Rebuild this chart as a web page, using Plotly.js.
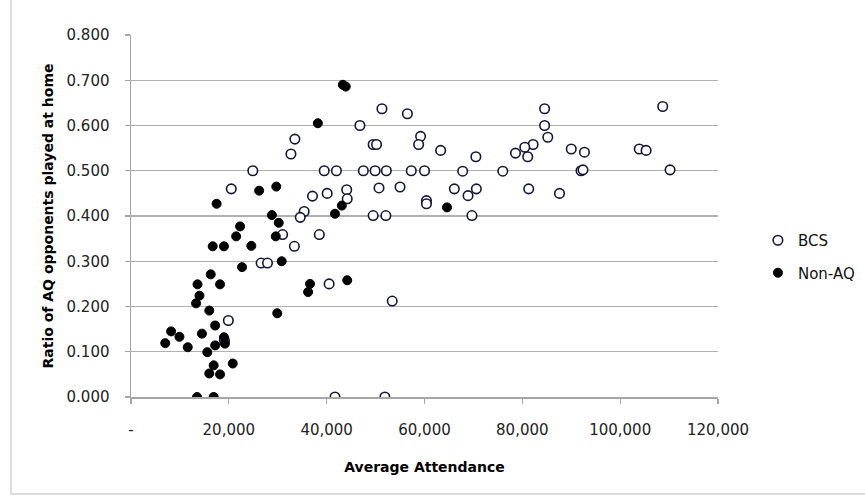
<!DOCTYPE html>
<html>
<head>
<meta charset="utf-8">
<script src="https://cdn.plot.ly/plotly-3.0.1.min.js"></script>
<style>
  html, body { margin: 0; padding: 0; background: #ffffff; }
  #chart { width: 865px; height: 497px; }
</style>
</head>
<body>
<div id="chart"></div>
<script>
// ---- Data ----
var seriesNames = ["BCS", "Non-AQ"];

var bcsAttendance = [
  41700, 51900, 40500, 53400, 33400,
  84550, 84550, 85200, 82200, 80500, 78600, 81100, 90000, 92700,
  103900, 105300, 108700, 110200, 92000, 92400, 76000, 70500, 67800,
  63300, 66100, 70600, 68900, 81300, 87600, 69700,
  46800, 51300, 56500, 33500, 32700, 49500, 50200, 59200, 58800,
  24900, 39500, 42000, 47500, 49900, 52200, 57300, 60000,
  20500, 37100, 40100, 44100, 44200, 35400, 34600, 50700, 55000,
  60400, 60400, 49500, 52100, 31000, 38500, 26600, 27900, 19900, 19100
];
var bcsRatio = [
  0.000, 0.000, 0.250, 0.212, 0.333,
  0.637, 0.600, 0.574, 0.558, 0.552, 0.539, 0.531, 0.548, 0.541,
  0.548, 0.545, 0.642, 0.502, 0.500, 0.502, 0.499, 0.531, 0.499,
  0.545, 0.460, 0.460, 0.445, 0.460, 0.450, 0.401,
  0.600, 0.637, 0.626, 0.570, 0.537, 0.558, 0.558, 0.576, 0.558,
  0.500, 0.500, 0.500, 0.500, 0.500, 0.500, 0.500, 0.500,
  0.460, 0.444, 0.450, 0.458, 0.438, 0.410, 0.397, 0.462, 0.464,
  0.434, 0.427, 0.401, 0.401, 0.359, 0.359, 0.296, 0.296, 0.169, 0.125
];

var nonAqAttendance = [
  43300, 43900, 38200, 26200, 29700, 43100, 41700, 64600, 28800, 30200,
  22300, 21500, 29600, 24600, 16700, 19000, 17500, 22700, 30800, 36600,
  36200, 44200, 16300, 18200, 13600, 14000, 13300, 16000, 29900, 17200,
  14500, 19000, 19200, 8200, 9900, 7000, 11600, 15600, 17200, 20800,
  16900, 16000, 18200, 13500, 16900
];
var nonAqRatio = [
  0.690, 0.686, 0.605, 0.456, 0.465, 0.423, 0.405, 0.419, 0.402, 0.385,
  0.377, 0.355, 0.355, 0.334, 0.333, 0.333, 0.427, 0.287, 0.300, 0.250,
  0.232, 0.258, 0.271, 0.249, 0.249, 0.224, 0.207, 0.191, 0.185, 0.158,
  0.140, 0.132, 0.118, 0.145, 0.133, 0.119, 0.110, 0.099, 0.114, 0.074,
  0.070, 0.052, 0.050, 0.000, 0.000
];

var xTickVals = [0, 20000, 40000, 60000, 80000, 100000, 120000];
var xTickText = ["-", "20,000", "40,000", "60,000", "80,000", "100,000", "120,000"];
var yTickVals = [0, 0.1, 0.2, 0.3, 0.4, 0.5, 0.6, 0.7, 0.8];

var xTitle = "Average Attendance";
var yTitle = "Ratio of AQ opponents played at home";

// ---- Chart ----
var FONT = "DejaVu Sans, Open Sans, sans-serif";

var traces = [
  {
    type: "scatter", mode: "markers", name: seriesNames[0],
    x: bcsAttendance, y: bcsRatio, legendgroup: "a",
    marker: { symbol: "circle", size: 9.5, color: "#ffffff",
              line: { color: "#14143a", width: 1.6 } },
    hoverinfo: "skip"
  },
  {
    type: "scatter", mode: "markers", name: seriesNames[1],
    x: nonAqAttendance, y: nonAqRatio, legendgroup: "b",
    marker: { symbol: "circle", size: 9, color: "#000000",
              line: { color: "#000000", width: 1 } },
    hoverinfo: "skip"
  }
];

var layout = {
  width: 865, height: 497,
  margin: { l: 131, r: 147, t: 35, b: 100, pad: 0, autoexpand: false },
  paper_bgcolor: "#ffffff", plot_bgcolor: "#ffffff",
  font: { family: FONT, size: 15, color: "#222222" },
  showlegend: true,
  legend: {
    x: 1.068, xanchor: "left", y: 0.478, yanchor: "top",
    font: { family: FONT, size: 15, color: "#111111" },
    tracegroupgap: 10, bgcolor: "rgba(0,0,0,0)", borderwidth: 0
  },
  xaxis: {
    range: [0, 120000], autorange: false,
    tickvals: xTickVals, ticktext: xTickText,
    ticks: "outside", ticklen: 5, tickcolor: "#a6a6a6", tickwidth: 1.3,
    showline: true, linecolor: "#a6a6a6", linewidth: 1.5,
    showgrid: false, zeroline: false,
    tickfont: { family: FONT, size: 15, color: "#222222" },
    ticklabelstandoff: 13,
    title: { text: xTitle, standoff: 24,
             font: { family: FONT, size: 14, color: "#000000", weight: "bold" } }
  },
  yaxis: {
    range: [0, 0.8], autorange: false,
    tickvals: yTickVals, tickformat: ".3f",
    ticks: "outside", ticklen: 5, tickcolor: "#a6a6a6", tickwidth: 1.3,
    showline: true, linecolor: "#a6a6a6", linewidth: 1.5,
    showgrid: true, gridcolor: "#b0b0b0", gridwidth: 1.3,
    zeroline: false,
    tickfont: { family: FONT, size: 15, color: "#222222" },
    ticklabelstandoff: 12,
    title: { text: yTitle, standoff: 9,
             font: { family: FONT, size: 14, color: "#000000", weight: "bold" } }
  },
  shapes: [
    { type: "line", xref: "paper", yref: "paper",
      x0: -0.2044, x1: -0.2044, y0: -0.268, y1: 1.1, line: { color: "#d0d0d0", width: 1.5 } },
    { type: "line", xref: "paper", yref: "paper",
      x0: -0.2044, x1: 1.26, y0: -0.268, y1: -0.268, line: { color: "#d0d0d0", width: 1.5 } }
  ],
  hovermode: false
};

Plotly.newPlot("chart", traces, layout, { displayModeBar: false, staticPlot: true });
</script>
</body>
</html>
